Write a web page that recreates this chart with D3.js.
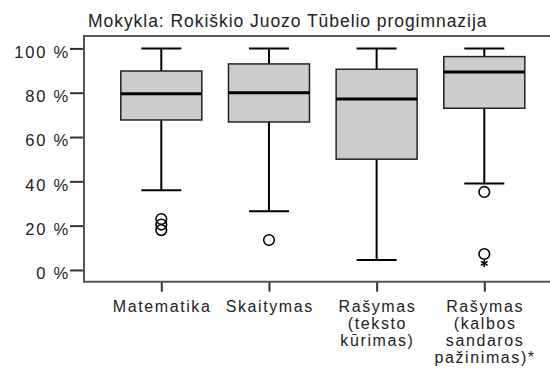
<!DOCTYPE html>
<html lang="lt">
<head>
  <meta charset="UTF-8">
  <title>Mokykla: Rokiškio Juozo Tūbelio progimnazija</title>
  <script src="https://d3js.org/d3.v7.min.js"></script>
  <style>
    body { margin: 0; background: #fff; }
    svg { font-family: "Liberation Sans", Arial, sans-serif; }
  </style>
</head>
<body>
  <svg width="550" height="369"></svg>
  <script>
    // data (percent)
    const title = "Mokykla: Rokiškio Juozo Tūbelio progimnazija";
    const categories = ["Matematika", "Skaitymas", "Rašymas (teksto kūrimas)", "Rašymas (kalbos sandaros pažinimas)*"];
    const labelLines = [["Matematika"], ["Skaitymas"], ["Rašymas", "(teksto", "kūrimas)"], ["Rašymas", "(kalbos", "sandaros", "pažinimas)*"]];
    const whiskerLow = [36, 26.5, 4.5, 39];
    const q1 = [67.7, 66.8, 50, 73];
    const median = [79.5, 80, 77.2, 89.4];
    const q3 = [89.8, 93, 90.6, 96.3];
    const whiskerHigh = [100, 100, 100, 100];
    // [category index, value, kind]
    const outliers = [
      [0, 23, "o"], [0, 20.5, "o"], [0, 18, "o"],
      [1, 13.5, "o"],
      [3, 35.2, "o"], [3, 7.2, "o"], [3, 3, "*"]
    ];
    const yTicks = [0, 20, 40, 60, 80, 100];

    const svg = d3.select("svg");
    const plotTop = 36, plotBottom = 281.7, plotLeft = 84, plotRight = 550;

    const y = d3.scaleLinear().domain([-5.3, 105.6]).range([plotBottom, plotTop]);
    const x = d3.scalePoint().domain(categories).range([161.3, 484.3]);
    const boxW = 81, capW = 40;

    // title
    svg.append("text")
      .attr("x", 88).attr("y", 27)
      .attr("font-size", 17.5)
      .attr("letter-spacing", 0.95)
      .attr("fill", "#222")
      .text(title);

    // y axis
    const yAxis = svg.append("g")
      .attr("transform", `translate(${plotLeft},0)`)
      .call(d3.axisLeft(y).tickValues(yTicks).tickFormat(d => d + " %").tickSize(14).tickSizeOuter(0));
    yAxis.select(".domain").remove();
    yAxis.selectAll(".tick line").attr("stroke", "#333").attr("stroke-width", 2);
    yAxis.selectAll(".tick text")
      .attr("font-size", 16.5).attr("letter-spacing", 1.8).attr("fill", "#222")
      .attr("font-family", "Liberation Sans, Arial, sans-serif")
      .attr("x", -14).attr("y", 3).attr("dy", "0.36em");

    // x axis
    const xAxis = svg.append("g")
      .attr("transform", `translate(0,${plotBottom})`)
      .call(d3.axisBottom(x).tickSize(10).tickSizeOuter(0).tickFormat(""));
    xAxis.select(".domain").remove();
    xAxis.selectAll(".tick line").attr("stroke", "#333").attr("stroke-width", 2);

    const xl = svg.append("g")
      .attr("font-size", 16).attr("letter-spacing", 1.6)
      .attr("fill", "#222").attr("text-anchor", "middle");
    categories.forEach((c, i) => {
      const t = xl.append("text").attr("x", x(c)).attr("y", 312);
      labelLines[i].forEach((ln, j) => {
        t.append("tspan").attr("x", x(c) + 0.8).attr("y", 312 + j * 17).text(ln);
      });
    });

    // frame
    svg.append("path")
      .attr("d", `M${plotRight},${plotTop}H${plotLeft}V${plotBottom}H${plotRight}`)
      .attr("fill", "none").attr("stroke", "#555").attr("stroke-width", 2);

    // boxes
    const g = svg.append("g");
    categories.forEach((c, i) => {
      const cx = x(c);
      const b = g.append("g");
      b.append("line").attr("x1", cx).attr("x2", cx).attr("y1", y(whiskerHigh[i])).attr("y2", y(q3[i]))
        .attr("stroke", "#000").attr("stroke-width", 2);
      b.append("line").attr("x1", cx).attr("x2", cx).attr("y1", y(q1[i])).attr("y2", y(whiskerLow[i]))
        .attr("stroke", "#000").attr("stroke-width", 2);
      b.append("line").attr("x1", cx - capW / 2).attr("x2", cx + capW / 2).attr("y1", y(whiskerHigh[i])).attr("y2", y(whiskerHigh[i]))
        .attr("stroke", "#000").attr("stroke-width", 2);
      b.append("line").attr("x1", cx - capW / 2).attr("x2", cx + capW / 2).attr("y1", y(whiskerLow[i])).attr("y2", y(whiskerLow[i]))
        .attr("stroke", "#000").attr("stroke-width", 2);
      b.append("rect").attr("x", cx - boxW / 2).attr("width", boxW)
        .attr("y", y(q3[i])).attr("height", y(q1[i]) - y(q3[i]))
        .attr("fill", "#cccccc").attr("stroke", "#222").attr("stroke-width", 1.5);
      b.append("line").attr("x1", cx - boxW / 2).attr("x2", cx + boxW / 2).attr("y1", y(median[i])).attr("y2", y(median[i]))
        .attr("stroke", "#000").attr("stroke-width", 3);
    });

    // outliers and extremes
    outliers.forEach(([i, v, kind]) => {
      const cx = x(categories[i]);
      if (kind === "o") {
        g.append("circle").attr("cx", cx).attr("cy", y(v)).attr("r", 5.3)
          .attr("fill", "none").attr("stroke", "#000").attr("stroke-width", 1.6);
      } else {
        g.append("path").attr("transform", `translate(${cx},${y(v)})`)
          .attr("d", d3.symbol(d3.symbolAsterisk, 40)())
          .attr("fill", "none").attr("stroke", "#000").attr("stroke-width", 1.6);
      }
    });
  </script>
</body>
</html>
